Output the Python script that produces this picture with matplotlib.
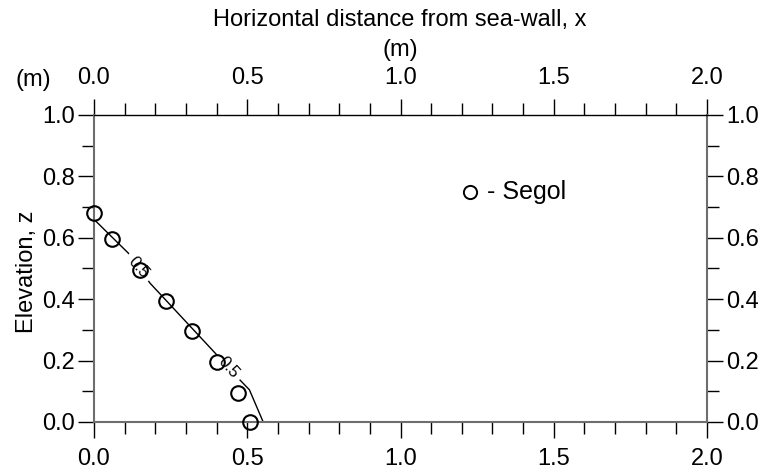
import matplotlib
matplotlib.use('Agg')
import matplotlib.pyplot as plt
from matplotlib.ticker import MultipleLocator

plt.rcParams['font.family'] = ['Liberation Sans', 'DejaVu Sans']

# Segol measurements (x: distance from sea-wall, z: elevation), in m
segol_x = [0.0, 0.06, 0.15, 0.235, 0.32, 0.40, 0.47, 0.51]
segol_z = [0.68, 0.595, 0.495, 0.395, 0.295, 0.195, 0.095, 0.0]

# 0.5 contour
contour_x = [0.0, 0.112, 0.183, 0.406, 0.476, 0.507, 0.552]
contour_z = [0.66, 0.55, 0.452, 0.213, 0.137, 0.105, 0.0]
contour_level = '0.5'
label_x = [0.144, 0.437]
label_z = [0.502, 0.176]

FS = 17
W, H = 762, 472
fig = plt.figure(figsize=(W / 100, H / 100), dpi=100)
ax = fig.add_axes([94 / W, 50 / H, 613 / W, 307 / H])

ax.plot(contour_x, contour_z, color='black', lw=1.0, zorder=2)
for lx, lz in zip(label_x, label_z):
    ax.text(lx, lz, contour_level, rotation=-48, rotation_mode='anchor',
            ha='center', va='center', fontsize=12, zorder=2.5,
            bbox=dict(boxstyle='square,pad=0.3', fc='white', ec='none'))
ax.plot(segol_x, segol_z, 'o', ms=10.5, mfc='none', mec='black', mew=1.5,
        zorder=3, clip_on=False)

# legend drawn as a marker + text inside the axes
ax.plot([1.226], [0.75], 'o', ms=9.5, mfc='none', mec='black', mew=1.4)
ax.text(1.283, 0.75, '- Segol', fontsize=18, va='center', ha='left')

ax.set_xlim(0, 2.0)
ax.set_ylim(0, 1.0)
ax.xaxis.set_major_locator(MultipleLocator(0.5))
ax.xaxis.set_minor_locator(MultipleLocator(0.1))
ax.yaxis.set_major_locator(MultipleLocator(0.2))
ax.yaxis.set_minor_locator(MultipleLocator(0.1))
ax.xaxis.set_major_formatter(lambda v, p: f'{v:.1f}')
ax.yaxis.set_major_formatter(lambda v, p: f'{v:.1f}')

ax.tick_params(which='both', direction='out', top=True, bottom=True,
               left=True, right=True, labeltop=True, labelbottom=True,
               labelleft=True, labelright=True, labelsize=FS, width=1.0,
               color='black')
ax.tick_params(which='major', length=11.5, pad=2)
ax.tick_params(which='minor', length=8.5)
ax.tick_params(axis='x', which='major', pad=7)

for side in ['left', 'right', 'bottom']:
    ax.spines[side].set_color('#6e6e6e')
    ax.spines[side].set_linewidth(1.5)
ax.spines['top'].set_color('black')
ax.spines['top'].set_linewidth(1.0)

ax.set_ylabel('Elevation, z', fontsize=FS)
ax.yaxis.set_label_coords(-0.092, 0.49)
fig.text(400 / W, 1 - 20 / H, 'Horizontal distance from sea-wall, x',
         fontsize=FS, ha='center', va='center')
fig.text(400 / W, 1 - 50 / H, '(m)', fontsize=FS, ha='center', va='center')
fig.text(33 / W, 1 - 80 / H, '(m)', fontsize=FS, ha='center', va='center')

fig.savefig('out.png', dpi=100)
